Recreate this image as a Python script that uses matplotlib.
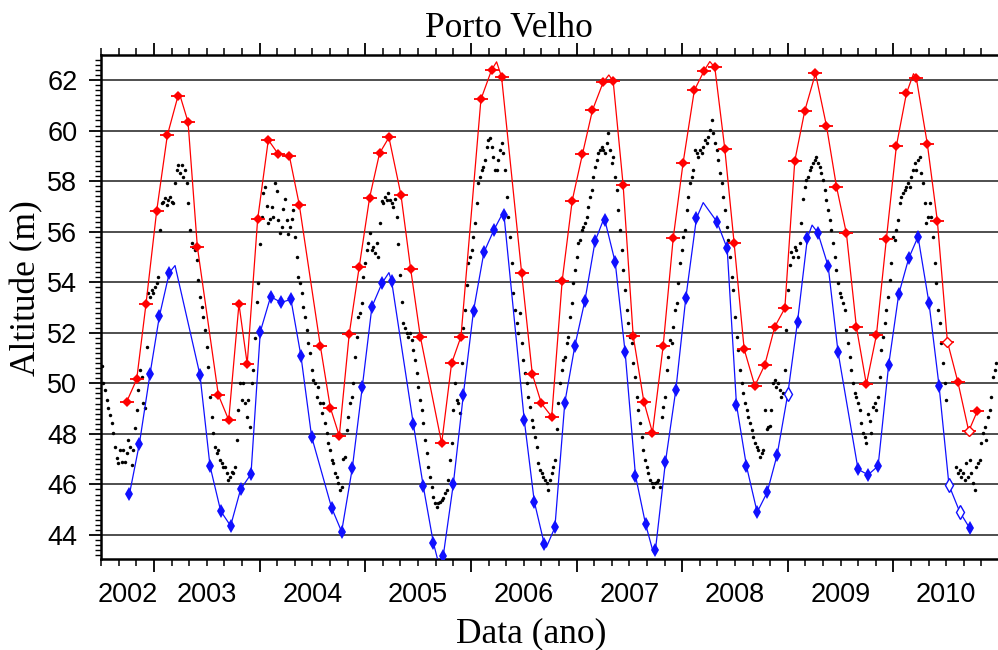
import matplotlib.pyplot as plt
from matplotlib.ticker import FixedLocator, MultipleLocator
import numpy as np

nivel_inicio = 2002.505
nivel_passo = 5 / 317.0
nivel = [
    # 2002 - 2003
    50.7, 50.0, 49.74, 49.34, 49.01, 48.75, 48.42, 48.02, 47.50, 47.03,
    46.84, 47.36, 46.90, 47.36, 46.90, 47.23, 47.76, 47.50, 46.77, 47.36,
    48.22, 48.94, 49.74, 50.53, 50.26, 49.21, 49.01, 51.45, 53.56, 53.43,
    53.69, 53.56, 53.82, 53.96, 54.22, 56.07, 57.12, 57.19, 57.32, 57.06,
    57.25, 57.38, 57.19, 57.12, 57.91, 58.44, 58.64, 58.31, 58.64, 58.18,
    58.44, 57.91, 57.12, 56.07, 55.54, 55.41, 55.28, 54.88, 54.09, 53.43,
    53.03, 52.64, 52.11, 51.45, 50.66, 49.47, 48.68, 48.02, 47.50, 47.23,
    47.36, 46.97, 46.84, 46.70, 46.70, 46.44, 46.18, 46.31, 46.51, 46.44,
    46.70, 47.76, 48.94, 50.0, 49.34, 50.0, 49.21, 48.68, 49.34,
    # 2004
    48.29, 50.0, 50.53, 51.8, 53.2, 53.96, 55.5, 56.59, 57.52, 57.78,
    57.0, 56.33, 56.5, 56.99, 56.59, 57.91, 57.6, 56.46, 55.93, 56.2,
    56.9, 57.3, 56.46, 55.9, 56.2, 56.5, 56.86, 55.8, 54.98, 54.22,
    53.96, 53.56, 53.03, 52.64, 52.11, 51.58, 51.19, 50.53, 50.13, 50.0,
    49.47, 49.87, 49.21, 48.81, 49.21, 48.42, 48.02, 47.63, 47.36, 46.97,
    46.84, 46.44, 46.31, 46.05, 45.78, 45.91, 47.0, 47.10, 48.16, 48.68,
    49.21, 49.47, 50.0, 51.06, 51.85, 52.64, 52.77, 53.17, 54.22, 54.75,
    55.28, 55.54, 55.93, 55.28, 55.41, 55.14, 55.54, 55.01, 56.33, 57.2,
    57.12, 57.38, 57.25, 57.52, 57.25, 57.12, 56.99,
    # 2005 - 2006
    57.3, 56.59, 55.5, 54.3, 53.2, 52.4, 52.2, 52.0, 51.85, 51.98,
    51.71, 51.32, 50.92, 50.40, 49.87, 49.34, 48.94, 48.42, 47.76, 47.23,
    46.70, 46.31, 45.91, 45.52, 45.25, 45.12, 45.25, 45.32, 45.39, 45.45,
    45.65, 45.78, 46.18, 46.97, 47.63, 48.94, 50.0, 49.34, 49.21, 48.81,
    50.8, 52.2, 52.90, 53.9, 54.75, 55.01, 55.28, 55.80, 56.33, 57.12,
    57.91, 58.18, 58.44, 58.57, 58.84, 59.36, 59.63, 59.69, 59.36, 58.97,
    58.44, 58.44, 58.84, 59.23, 59.50, 59.10, 58.44, 57.38, 56.59, 55.80,
    54.75, 53.56, 52.90, 52.37, 51.98, 52.77, 51.58, 50.92, 50.40, 50.0,
    49.47, 49.08, 48.55, 48.29, 47.89, 47.50, 46.84, 46.57, 46.44, 46.31,
    # 2006 - 2007
    46.18, 46.05, 45.78, 46.18, 46.44, 46.70, 46.97, 48.2, 49.21, 50.0,
    50.53, 50.92, 51.06, 51.58, 51.85, 52.64, 53.17, 53.96, 54.48, 55.01,
    55.54, 55.67, 56.07, 56.20, 56.33, 56.59, 56.99, 57.38, 57.65, 58.18,
    58.57, 58.84, 59.10, 59.23, 59.36, 59.23, 59.10, 59.50, 59.89, 59.23,
    58.70, 58.97, 58.18, 57.65, 56.86, 56.07, 55.28, 54.48, 53.69, 52.90,
    52.37, 51.85, 51.58, 50.79, 50.26, 49.47, 48.94, 48.42, 47.89, 47.36,
    46.97, 46.70, 46.44, 46.18, 46.05, 45.91, 46.05, 46.11, 46.18, 45.91,
    48.68, 49.08, 49.47, 50.53, 51.06, 51.71, 51.58, 52.24, 52.90, 53.17,
    53.96, 54.75, 55.28, 55.80, 56.07, 56.86, 57.38, 57.91, 58.18, 58.44,
    # 2008 - 2009
    59.23, 59.10, 58.97, 59.23, 59.10, 59.36, 59.63, 59.50, 59.76, 60.02,
    60.42, 59.9, 59.50, 59.23, 58.84, 58.31, 57.91, 57.38, 56.86, 56.20,
    55.67, 55.01, 54.22, 53.69, 52.64, 51.85, 51.32, 50.53, 50.0, 49.61,
    49.21, 48.94, 48.68, 48.42, 48.16, 47.89, 47.63, 47.50, 47.36, 47.10,
    47.23, 47.36, 48.94, 48.2, 48.29, 48.3, 48.94, 50.0, 50.13, 49.87,
    50.0, 49.74, 49.47, 49.61, 50.53, 52.1, 53.69, 54.7, 55.2, 55.01,
    55.41, 55.28, 55.01, 55.54, 56.33, 57.3, 57.78, 58.04, 58.18, 58.44,
    58.57, 58.70, 58.84, 58.97, 58.70, 58.57, 58.31, 58.04, 57.65, 57.25,
    56.86, 56.46, 56.07, 55.54, 55.01, 54.48, 53.96, 53.56, 53.43, 53.17,
    # 2009 - 2010
    52.9, 52.11, 51.58, 51.06, 50.53, 50.0, 49.61, 49.47, 49.21, 48.94,
    48.42, 48.02, 47.89, 47.63, 48.8, 48.5, 48.02, 49.08, 49.21, 48.94,
    49.47, 50.26, 51.3, 51.85, 52.37, 52.90, 53.43, 54.09, 54.75, 55.80,
    55.67, 56.07, 56.46, 57.12, 57.38, 57.52, 57.65, 57.78, 57.91, 57.78,
    58.18, 58.44, 58.70, 58.44, 58.84, 58.97, 58.31, 57.91, 57.12, 56.33,
    56.59, 57.12, 56.59, 55.80, 54.75, 53.96, 52.90, 52.37, 51.58, 50.79,
    50.0, 49.34, np.nan, np.nan, np.nan, np.nan, np.nan, 46.70, 46.44, 46.57,
    46.31, 46.44, 46.18, 46.84, 46.31, 46.97, 46.44, 46.05, 45.78, 46.70,
    46.84, 46.97, 47.63, 48.02, 48.29, 47.76, 48.68, 48.94, 49.47, 50.26,
    50.53, 50.79,
]

# curva vermelha (marcadores)
red_t = [2002.742, 2002.836, 2002.924, 2003.025, 2003.126, 2003.227, 2003.322, 2003.410,
         2003.609, 2003.707, 2003.804, 2003.882, 2003.981, 2004.082, 2004.176, 2004.281,
         2004.375, 2004.574, 2004.669, 2004.754, 2004.848, 2004.943, 2005.041, 2005.135,
         2005.224, 2005.338, 2005.429, 2005.521, 2005.723, 2005.817, 2005.906, 2006.095,
         2006.196, 2006.290, 2006.480, 2006.581, 2006.667, 2006.765, 2006.864, 2006.959,
         2007.056, 2007.151, 2007.252, 2007.347, 2007.441, 2007.536, 2007.637, 2007.719,
         2007.820, 2007.915, 2008.009, 2008.115, 2008.208, 2008.309, 2008.404, 2008.492,
         2008.587, 2008.688, 2008.782, 2008.877, 2008.972, 2009.066, 2009.161, 2009.262,
         2009.366, 2009.461, 2009.555, 2009.649, 2009.744, 2009.839, 2009.933, 2010.028,
         2010.123, 2010.217, 2010.321, 2010.416, 2010.511, 2010.611, 2010.713, 2010.795]
red_h = [49.28, 50.16, 53.14, 56.82, 59.81, 61.37, 60.34, 55.41,
         49.54, 48.55, 53.14, 50.77, 56.49, 59.63, 59.07, 59.00,
         57.07, 51.49, 49.04, 47.92, 51.95, 54.62, 57.35, 59.10,
         59.73, 57.45, 54.54, 51.85, 47.63, 50.79, 51.85, 61.24,
         62.40, 62.13, 54.38, 50.37, 49.21, 48.68, 54.06, 57.23,
         59.07, 60.81, 61.91, 61.95, 57.85, 51.89, 49.28, 48.05,
         51.48, 55.74, 58.73, 61.59, 62.37, 62.50, 59.26, 55.54,
         51.35, 49.90, 50.73, 52.24, 52.97, 58.80, 60.79, 62.26,
         60.19, 57.78, 55.93, 52.24, 49.96, 51.91, 55.70, 59.39,
         61.47, 62.07, 59.47, 56.42, 51.65, 50.04, 48.11, 48.91]
red_vazio = [2010.511, 2010.713]
# topos da curva vermelha entre marcadores
red_topo_t = [2003.240, 2006.243, 2007.306, 2008.262, 2010.190]
red_topo_h = [61.47, 62.72, 62.20, 62.73, 62.25]

# curva azul (marcadores)
blue_t = [2002.767, 2002.861, 2002.962, 2003.051, 2003.145, 2003.435, 2003.530, 2003.631,
          2003.725, 2003.820, 2003.918, 2004.006, 2004.104, 2004.202, 2004.296, 2004.391,
          2004.492, 2004.681, 2004.776, 2004.877, 2004.971, 2005.063, 2005.158, 2005.249,
          2005.455, 2005.549, 2005.644, 2005.738, 2005.833, 2005.928, 2006.025, 2006.123,
          2006.218, 2006.313, 2006.505, 2006.600, 2006.694, 2006.795, 2006.889, 2006.984,
          2007.079, 2007.176, 2007.268, 2007.366, 2007.460, 2007.558, 2007.653, 2007.747,
          2007.842, 2007.940, 2008.034, 2008.135, 2008.328, 2008.426, 2008.514, 2008.609,
          2008.710, 2008.805, 2008.899, 2009.000, 2009.092, 2009.186, 2009.284, 2009.382,
          2009.476, 2009.665, 2009.760, 2009.855, 2009.955, 2010.050, 2010.145, 2010.233,
          2010.337, 2010.432, 2010.526, 2010.627, 2010.722]
blue_h = [45.61, 47.60, 50.37, 52.66, 54.38, 50.33, 46.73, 44.95,
          44.36, 45.81, 46.41, 52.04, 53.43, 53.20, 53.32, 51.08,
          47.89, 45.08, 44.13, 46.64, 49.84, 53.03, 53.96, 54.05,
          48.39, 45.93, 43.70, 43.17, 46.00, 49.54, 52.88, 55.18,
          56.07, 56.66, 48.55, 45.32, 43.65, 44.30, 49.24, 51.48,
          53.27, 55.63, 56.46, 54.79, 51.23, 46.35, 44.44, 43.41,
          46.90, 49.74, 53.36, 56.53, 56.40, 55.34, 49.16, 46.72,
          44.90, 45.69, 47.17, 49.58, 52.44, 55.76, 55.96, 54.64,
          51.23, 46.60, 46.38, 46.73, 50.73, 53.52, 54.95, 55.80,
          53.17, 49.90, 45.97, 44.92, 44.27]
blue_vazio = [2009.000, 2010.526, 2010.627]
blue_topo_t = [2003.199, 2005.224, 2005.690, 2006.306, 2006.715, 2007.262, 2007.725, 2008.199, 2009.230]
blue_topo_h = [54.66, 54.38, 42.95, 56.77, 43.52, 56.55, 43.33, 57.15, 56.26]

anos = [2002, 2003, 2004, 2005, 2006, 2007, 2008, 2009, 2010]

sans = 'Liberation Sans'
serif = 'Liberation Serif'


def curva(ax, t, h, topo_t, topo_h, vazio, cor, marker, ms, barra):
    t = np.array(t)
    h = np.array(h)
    lt = np.concatenate([t, topo_t])
    lh = np.concatenate([h, topo_h])
    o = np.argsort(lt)
    ax.plot(lt[o], lh[o], '-', color=cor, lw=0.9, zorder=3)
    aberto = np.isin(t, vazio)
    ax.plot(t[~aberto], h[~aberto], marker, ms=ms, color=cor, mew=0, ls='none', zorder=4)
    if barra:
        ax.plot(t, h, '_', ms=10, color=cor, mew=1.3, ls='none', zorder=4)
    ax.plot(t[aberto], h[aberto], marker, ms=ms, mfc='white', mec=cor, mew=1.0, ls='none', zorder=5)


fig = plt.figure(figsize=(9.98, 6.5), dpi=100)
ax = fig.add_axes([101 / 998, 1 - 559 / 650, 897 / 998, 504 / 650])

tt = nivel_inicio + nivel_passo * np.arange(len(nivel))
ax.plot(tt, nivel, 'o', ms=2.5, color='black', mew=0, ls='none', zorder=2)

curva(ax, red_t, red_h, red_topo_t, red_topo_h, red_vazio, '#ff0000', 'D', 5, True)
curva(ax, blue_t, blue_h, blue_topo_t, blue_topo_h, blue_vazio, '#1010ff', 'd', 7.5, False)

xmin, xmax = 2002.498, 2010.99
ax.set_xlim(xmin, xmax)
ax.set_ylim(43.05, 62.99)

ax.yaxis.set_major_locator(FixedLocator(np.arange(44, 63, 2)))
ax.yaxis.set_minor_locator(MultipleLocator(0.2))
ax.yaxis.grid(True, color='#303030', lw=1.2)
ax.set_axisbelow(True)

ax.xaxis.set_major_locator(FixedLocator(anos[1:] + [2011]))
ax.xaxis.set_minor_locator(FixedLocator(np.arange(2002.5, 2011.0, 1 / 6.0)))
ax.tick_params(axis='x', which='both', direction='out', top=True, bottom=True,
               labelbottom=False, labeltop=False)
ax.tick_params(axis='x', which='major', length=9, width=1.3)
ax.tick_params(axis='x', which='minor', length=5, width=1.1)
ax.tick_params(axis='y', which='both', direction='out', left=True, right=False)
ax.tick_params(axis='y', which='major', length=9, width=1.3, labelsize=19.5, pad=8)
ax.tick_params(axis='y', which='minor', length=4.5, width=1.0)
for lab in ax.get_yticklabels():
    lab.set_family(sans)

for s in ['left', 'bottom', 'top']:
    ax.spines[s].set_linewidth(1.8)
ax.spines['right'].set_visible(False)

for a in anos:
    meio = (max(a, xmin) + min(a + 1, xmax)) / 2
    ax.annotate(str(a), xy=(meio, 0), xycoords=('data', 'axes fraction'),
                xytext=(0, -31), textcoords='offset points', ha='center',
                va='baseline', fontsize=19.5, family=sans)

fig.text(509 / 998, 1 - 37 / 650, 'Porto Velho', ha='center', va='baseline',
         fontsize=25.5, family=serif)
fig.text(531 / 998, 1 - 642 / 650, 'Data (ano)', ha='center', va='baseline',
         fontsize=25.5, family=serif)
fig.text(27 / 998, 1 - 288 / 650, 'Altitude (m)', ha='center', va='center',
         rotation=90, fontsize=25.5, family=serif)

fig.savefig('out.png', dpi=100)
